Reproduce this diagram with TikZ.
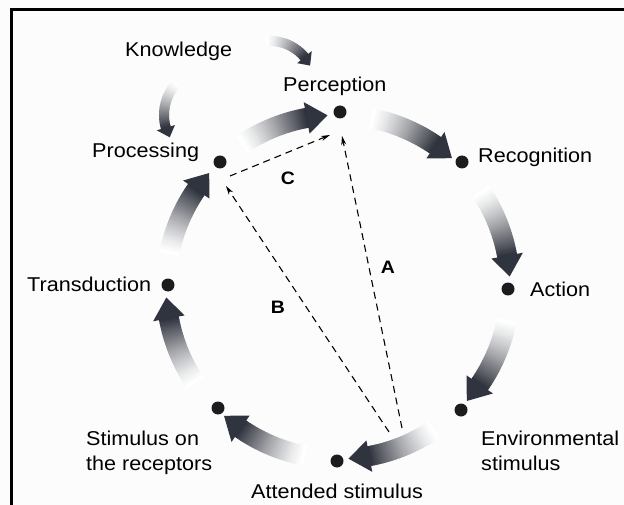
\documentclass[tikz,border=0pt]{standalone}
\usepackage{fontspec}
\setmainfont[FakeStretch=1.08]{Liberation Sans}
\usetikzlibrary{arrows.meta}
\definecolor{arrowdark}{RGB}{48,52,62}
\definecolor{dotcol}{RGB}{28,28,30}
\definecolor{bgcol}{RGB}{252,252,252}
\newcommand\gradarrow[8]{%
  % #1 cx, #2 cy, #3 R, #4 tail angle, #5 tip angle, #6 body width, #7 head width, #8 head arc length (deg)
  \pgfmathsetmacro\gA{#4}%
  \pgfmathsetmacro\gT{#5}%
  \pgfmathsetmacro\gB{\gT+sign(\gA-\gT)*(#8)}%
  \foreach \i in {0,...,39}{%
    \pgfmathsetmacro\gP{\gA+(\gB-\gA)*\i/40}%
    \pgfmathsetmacro\gQ{\gA+(\gB-\gA)*(\i+1.4)/40}%
    \pgfmathsetmacro\gC{int(100*(\i/39)^1.3)}%
    \draw[line width=#6, arrowdark!\gC!white]
      ({#1+#3*cos(\gP)},{#2-#3*sin(\gP)}) -- ({#1+#3*cos(\gQ)},{#2-#3*sin(\gQ)});
  }%
  \fill[arrowdark]
    ({#1+(#3+#7/2)*cos(\gB)},{#2-(#3+#7/2)*sin(\gB)})
    -- ({#1+#3*cos(\gT)},{#2-#3*sin(\gT)})
    -- ({#1+(#3-#7/2)*cos(\gB)},{#2-(#3-#7/2)*sin(\gB)}) -- cycle;
}
\tikzset{
  lbl/.style={font=\fontsize{20}{24}\selectfont, inner sep=0pt},
  letter/.style={font=\fontsize{18}{22}\selectfont\bfseries, inner sep=0pt},
  dot/.style={circle, fill=dotcol, minimum size=13pt, inner sep=0pt},
  dashline/.style={dash pattern=on 7pt off 5pt, line width=1.1pt, -{Stealth[length=9pt,width=5pt]}},
  frame/.style={line width=3pt, black}
}
\begin{document}
\begin{tikzpicture}[x=1pt,y=-1pt]
\useasboundingbox (0,0) rectangle (624,505);
\fill[bgcol] (0,0) rectangle (624,505);
\draw[frame] (10,10) -- (624,10);
\draw[frame] (11,10) -- (11,505);

% circular arrows (centre 338,287, radius 172)
\foreach \s in {135,90,45,0,-45,-90,-135,180}{
  \gradarrow{338}{287}{172}{\s-11}{\s-45+3.5}{20}{32}{7}
}
% knowledge arrows
\gradarrow{270}{86}{45}{95}{27}{10}{19}{13}
\gradarrow{210}{115}{46}{136}{209}{10}{19}{13}

% dots
\node[dot] (perc) at (340,112) {};
\node[dot] (reco) at (462,162) {};
\node[dot] (act) at (508,289) {};
\node[dot] (env) at (461,410) {};
\node[dot] (att) at (337,461) {};
\node[dot] (stim) at (218,408) {};
\node[dot] (trans) at (168,285) {};
\node[dot] (proc) at (220,162) {};

% labels
\node[lbl, anchor=base west] (tknow) at (125,57) {Knowledge};
\node[lbl, anchor=base west] (tperc) at (283,92) {Perception};
\node[lbl, anchor=base west] (treco) at (478,163) {Recognition};
\node[lbl, anchor=base west] (tact) at (530,296) {Action};
\node[lbl, anchor=base west] (tenv1) at (481,445) {Environmental};
\node[lbl, anchor=base west] (tenv2) at (481,470) {stimulus};
\node[lbl, anchor=base] (tatt) at (337,498) {Attended stimulus};
\node[lbl, anchor=base west] (tstim1) at (86,445) {Stimulus on};
\node[lbl, anchor=base west] (tstim2) at (86,470) {the receptors};
\node[lbl, anchor=base west] (ttrans) at (27,291) {Transduction};
\node[lbl, anchor=base west] (tproc) at (92,158) {Processing};

% dashed arrows
\coordinate (aS) at (402,428);
\coordinate (aE) at (342,136);
\coordinate (bS) at (389,432);
\coordinate (bE) at (226,186);
\coordinate (cS) at (230,176);
\coordinate (cE) at (330,135);
\draw[dashline] (aS) -- (aE);
\draw[dashline] (bS) -- (bE);
\draw[dashline] (cS) -- (cE);

\node[letter] (lA) at (388,267) {A};
\node[letter] (lB) at (278,307) {B};
\node[letter] (lC) at (288,178) {C};
\end{tikzpicture}
\end{document}
